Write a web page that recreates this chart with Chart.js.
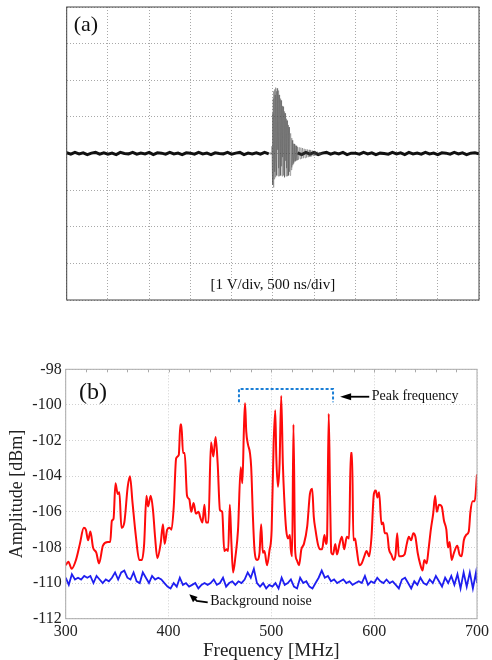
<!DOCTYPE html>
<html>
<head>
<meta charset="utf-8">
<script src="https://cdn.jsdelivr.net/npm/chart.js@4.4.1/dist/chart.umd.min.js"></script>
<style>
body { margin: 0; background: #fff; }
#wrap { position: relative; width: 492px; height: 660px; }
#canvas_a { position: absolute; left: 0; top: 0; }
#canvas_b { position: absolute; left: 0; top: 310px; }
</style>
</head>
<body>
<div id="wrap">
	<canvas id="canvas_a" width="492" height="310"></canvas>
	<canvas id="canvas_b" width="492" height="350"></canvas>
</div>
<script>
// ---- (a) oscilloscope trace, time in ns, voltage in V ----
var baseTime = [0,50,100,150,200,250,300,350,400,450,500,550,600,650,700,750,800,850,900,950,
	1000,1050,1100,1150,1200,1250,1300,1350,1400,1450,1500,1550,1600,1650,1700,1750,1800,1850,1900,1950,
	2000,2050,2100,2150,2200,2250,2300,2350,2400,2450,2500,2550,2600,2650,2700,2750,2800,2850,2900,2950,
	3000,3050,3100,3150,3200,3250,3300,3350,3400,3450,3500,3550,3600,3650,3700,3750,3800,3850,3900,3950,
	4000,4050,4100,4150,4200,4250,4300,4350,4400,4450,4500,4550,4600,4650,4700,4750,4800,4850,4900,4950,5000];
var baseVolt = [0.02,-0.02,0.03,-0.01,0.02,-0.03,0.01,0.03,-0.02,0.02,
	-0.02,0.01,-0.03,0.03,0.00,-0.01,0.03,-0.02,0.01,-0.01,
	0.03,-0.03,0.02,0.01,-0.02,0.03,-0.01,0.01,-0.03,0.02,
	0.01,-0.02,0.03,-0.01,0.01,-0.03,0.02,0.00,-0.01,0.03,
	-0.02,0.01,0.03,-0.03,0.01,-0.01,0.02,-0.02,0.03,-0.01,
	null,null,null,null,null,null,
	0.02,-0.03,0.03,-0.02,0.03,-0.03,0.01,0.03,-0.02,0.02,
	-0.01,0.03,-0.03,0.01,0.01,-0.02,0.03,-0.01,0.02,-0.03,
	0.01,0.00,-0.02,0.03,-0.01,0.02,-0.03,0.03,-0.01,0.01,
	-0.02,0.03,-0.01,0.01,-0.03,0.02,0.01,-0.02,0.03,-0.01,
	0.02,-0.03,0.01,0.02,-0.01];

var burstTime = [2450,2458,2466,2474,2482,
	2488,2492,2496,2500,2504,2508,2512,2516,2520,2524,2528,2532,2536,2540,2544,2548,2552,2556,2560,2564,
	2568,2572,2576,2580,2584,2588,2592,2596,2600,2604,2608,2612,2616,2620,2624,2628,2632,2636,2640,2644,
	2648,2652,2656,2660,2664,2668,2672,2676,2680,2684,2688,2692,2696,2700,2704,2708,2712,2716,2720,2724,
	2728,2732,2736,2740,2744,2748,2752,2756,2760,2764,2768,2772,2776,2780,2784,2788,2792,2796,2800,
	2810,2820,2830,2840,2850,2860,2870,2880,2890,2900,2910,2920,2930,2940,2950,2960,2970,2980,2990,3000,
	3010,3020,3030,3040,3050,3060,3070,3080,3090,3100];
var burstVolt = [-0.01,0.02,-0.02,0.03,-0.02,
	0.2,-0.4,1.1,-0.85,1.5,-0.93,1.7,-0.7,1.75,-0.5,1.6,-0.65,1.8,-0.2,1.7,-0.6,1.78,0.1,1.65,-0.62,
	1.72,-0.4,1.6,-0.62,1.55,0.0,1.5,-0.6,1.45,-0.35,1.4,-0.62,1.3,-0.1,1.28,-0.6,1.2,-0.45,1.15,-0.65,
	1.1,-0.2,1.0,-0.62,0.95,-0.4,0.9,-0.62,0.85,-0.15,0.78,-0.6,0.72,-0.5,0.68,-0.6,0.55,-0.3,0.48,-0.45,
	0.42,-0.38,0.36,-0.32,0.3,-0.28,0.27,-0.25,0.26,-0.22,0.24,-0.21,0.22,-0.2,0.21,-0.19,0.2,-0.18,0.18,
	-0.17,0.17,-0.15,0.16,-0.14,0.15,-0.13,0.13,-0.12,0.12,-0.11,0.11,-0.1,0.1,-0.09,0.09,-0.08,0.08,-0.07,0.07,
	-0.06,0.06,-0.05,0.05,-0.05,0.04,-0.04,0.04,-0.03,0.02];

// ---- (b) spectrum, MHz / dBm ----
var sigFreq = [300,302.6,305.8,310,313.8,317.6,319.6,321.8,324,326.6,329.8,332.4,336.2,341,343.3,344.9,346.5,348.4,350.6,352.2,
	354.2,357,360.3,362.5,365,368.3,371.5,374,376.3,378.5,380.1,382.7,384.9,386.9,389.1,392.3,394.6,396.2,398.7,401,
	402.9,405.1,407.4,410,411.5,412.5,414.1,415.7,418,420.2,422.1,424.4,426.6,429.2,430.8,433,434.9,436.5,438.8,441.3,
	443.6,445.8,447.8,450,452.2,454.2,456.4,458,459.6,461.2,462.8,465.1,467.6,470.2,471.8,473.4,474.4,475.6,477.2,479.2,
	480.4,482.1,483.7,486.2,488.5,490.1,491.7,493.3,495.8,498.1,500.3,502.2,503.8,504.8,506.4,508,509.6,511.2,512.5,514.4,
	516.3,518,518.9,520.2,521.5,523.1,524.7,526.9,529.2,531.7,534.9,537.5,539.7,541.3,542.9,545.2,547.1,549.4,551.6,553.2,
	554.2,555.8,557.1,558.3,560,562.2,563.8,566.3,568.6,570.8,573.4,575.6,577.2,578.5,579.8,581.4,583,585.6,587.8,590.4,
	592.6,595.2,597.4,599.7,601.6,603.2,604.8,607.1,608.7,610.3,612.5,614.4,616.7,618.9,620.8,622.4,624,626.3,629.5,631.7,
	633.7,635.9,638.1,640.1,642.3,644.6,647.1,648.7,651,652.9,655.1,657.4,659.3,660.9,663.1,665.7,667.9,670.2,671.8,673.4,
	675.3,677.6,680.8,683,685,687.2,689.4,692,693.6,695.8,697.8,700];
var sigAmp = [-109.0,-108.8,-109.2,-108.7,-107.8,-106.9,-107.0,-107.6,-107.1,-108.0,-108.3,-108.9,-107.9,-107.7,-107.7,-106.5,-106.4,-104.4,-105.0,-104.9,
	-106.9,-106.6,-104.6,-104.0,-105.5,-107.4,-108.7,-108.7,-107.8,-105.1,-105.7,-105.1,-105.9,-107.4,-108.6,-107.8,-106.7,-107.8,-107.0,-106.9,
	-107.0,-105.7,-103.0,-102.8,-101.1,-101.1,-102.7,-102.7,-105.1,-105.3,-106.0,-105.5,-106.1,-106.0,-106.3,-106.6,-105.6,-106.6,-106.6,-102.1,
	-102.9,-101.8,-103.3,-105.9,-106.0,-108.2,-108.1,-108.2,-105.6,-107.8,-109.4,-108.5,-107.0,-103.5,-104.4,-101.2,-99.9,-101.5,-102.2,-102.7,
	-103.5,-106.3,-108.2,-108.7,-108.3,-106.7,-108.3,-108.2,-109.0,-108.2,-107.0,-102.2,-100.3,-102.9,-104.6,-103.3,-99.5,-103.3,-105.2,-107.0,
	-107.5,-107.3,-108.1,-108.5,-101.1,-108.1,-108.7,-109.0,-108.1,-107.8,-106.8,-105.0,-104.7,-106.3,-107.0,-107.8,-108.1,-108.1,-107.3,-107.8,
	-107.4,-100.5,-105.1,-108.3,-108.4,-107.8,-108.4,-107.8,-107.4,-108.1,-107.4,-107.5,-102.7,-102.7,-107.6,-107.5,-108.1,-109.0,-108.9,-108.5,
	-108.2,-108.5,-107.4,-105.0,-104.8,-105.2,-104.9,-106.7,-106.6,-107.2,-107.2,-108.1,-108.4,-108.7,-108.4,-107.2,-108.5,-108.5,-108.4,-107.8,
	-107.4,-107.6,-107.2,-107.4,-108.3,-108.9,-109.3,-108.7,-108.9,-108.1,-107.0,-106.1,-105.1,-106.0,-105.6,-105.7,-106.5,-107.0,-108.0,-107.7,
	-108.7,-108.3,-107.9,-108.4,-108.5,-107.6,-107.3,-107.1,-106.0,-105.4,-105.4,-103.9];

var noiseFreq = [300,303,306,309,312,315,318,321,324,327,330,333,336,339,342,345,348,351,354,357,
	360,363,366,369,372,375,378,381,384,387,390,393,396,399,402,405,408,411,414,417,
	420,423,426,429,432,435,438,441,444,447,450,453,456,459,462,465,468,471,474,477,
	480,483,486,489,492,495,498,501,504,507,510,513,516,519,522,525,528,531,534,537,
	540,543,546,549,552,555,558,561,564,567,570,573,576,579,582,585,588,591,594,597,
	600,603,606,609,612,615,618,621,624,627,630,633,636,639,642,645,648,651,654,657,
	660,663,666,669,672,675,678,681,684,687,690,693,696,699,700];
var noiseAmp = [-109.7,-110.1,-109.5,-109.8,-109.7,-109.8,-109.6,-109.7,-109.6,-110.0,-109.6,-109.8,-110.0,-109.8,-109.9,-109.7,-109.4,-109.8,-109.4,-109.3,
	-109.7,-109.8,-109.4,-109.9,-110.0,-109.4,-109.7,-110.0,-109.6,-109.8,-109.7,-109.8,-110.0,-110.2,-110.3,-110.0,-110.2,-109.7,-110.1,-110.0,
	-110.2,-110.1,-110.0,-110.3,-110.1,-110.0,-110.1,-110.0,-109.8,-110.1,-110.0,-109.7,-110.2,-110.0,-109.9,-110.1,-109.9,-110.0,-109.8,-109.4,
	-109.7,-109.2,-110.0,-110.2,-110.0,-110.3,-110.1,-110.2,-110.0,-110.3,-109.7,-110.1,-110.0,-109.8,-110.2,-110.3,-109.7,-110.0,-109.9,-110.2,
	-110.3,-110.0,-109.7,-109.3,-109.7,-109.6,-109.9,-109.8,-110.0,-109.9,-109.8,-110.0,-109.9,-110.1,-110.0,-109.9,-110.0,-109.6,-110.1,-109.9,
	-110.0,-109.7,-109.9,-110.0,-109.8,-110.0,-109.9,-110.1,-110.3,-109.8,-109.7,-110.0,-110.3,-109.9,-110.1,-109.7,-110.0,-110.1,-109.8,-110.0,
	-109.6,-109.9,-110.2,-109.7,-110.0,-109.6,-110.1,-109.5,-110.3,-109.4,-110.2,-109.4,-110.3,-109.4,-110.0];

var serif = '"Liberation Serif", "Times New Roman", serif';

function toPoints(xs, ys) {
	var pts = [];
	for (var i in xs) {
		pts.push({x: xs[i], y: ys[i]});
	}
	return pts;
}

function arrowHead(ctx, x1, y1, x2, y2, len, half) {
	var ang = Math.atan2(y2 - y1, x2 - x1);
	ctx.beginPath();
	ctx.moveTo(x2, y2);
	ctx.lineTo(x2 - len * Math.cos(ang) + half * Math.sin(ang), y2 - len * Math.sin(ang) - half * Math.cos(ang));
	ctx.lineTo(x2 - len * Math.cos(ang) - half * Math.sin(ang), y2 - len * Math.sin(ang) + half * Math.cos(ang));
	ctx.closePath();
	ctx.fill();
}

var labelsA = {
	id: 'labelsA',
	afterDraw: function(chart) {
		var ctx = chart.ctx;
		var a = chart.chartArea;
		ctx.save();
		ctx.strokeStyle = '#444';
		ctx.lineWidth = 1;
		ctx.strokeRect(a.left, a.top, a.right - a.left, a.bottom - a.top);
		ctx.fillStyle = '#111';
		ctx.textBaseline = 'middle';
		ctx.font = '22px ' + serif;
		ctx.fillText('(a)', a.left + 7, a.top + 18);
		ctx.font = '15px ' + serif;
		ctx.textAlign = 'center';
		ctx.fillText('[1 V/div, 500 ns/div]', (a.left + a.right) / 2, a.bottom - 15);
		ctx.restore();
	}
};

var labelsB = {
	id: 'labelsB',
	afterDraw: function(chart) {
		var ctx = chart.ctx;
		var a = chart.chartArea;
		var sx = chart.scales.x, sy = chart.scales.y;
		ctx.save();
		ctx.strokeStyle = '#aaa';
		ctx.lineWidth = 1;
		ctx.strokeRect(a.left, a.top, a.right - a.left, a.bottom - a.top);
		// small marks along the top edge
		ctx.beginPath();
		for (var f = 320; f < 700; f += 20) {
			var px = Math.round(sx.getPixelForValue(f)) + 0.5;
			ctx.moveTo(px, a.top);
			ctx.lineTo(px, a.top + 3);
		}
		ctx.stroke();

		ctx.fillStyle = '#111';
		ctx.textBaseline = 'middle';
		ctx.font = '24px ' + serif;
		ctx.fillText('(b)', sx.getPixelForValue(313), sy.getPixelForValue(-99.31));

		// peak bracket
		ctx.strokeStyle = '#1b7fd6';
		ctx.lineWidth = 2;
		ctx.setLineDash([3, 2]);
		ctx.beginPath();
		ctx.moveTo(sx.getPixelForValue(468.5), sy.getPixelForValue(-99.85));
		ctx.lineTo(sx.getPixelForValue(468.5), sy.getPixelForValue(-99.1));
		ctx.lineTo(sx.getPixelForValue(560), sy.getPixelForValue(-99.1));
		ctx.lineTo(sx.getPixelForValue(560), sy.getPixelForValue(-99.85));
		ctx.stroke();
		ctx.setLineDash([]);

		// peak arrow
		ctx.strokeStyle = '#000';
		ctx.fillStyle = '#000';
		ctx.lineWidth = 1.8;
		var ay = sy.getPixelForValue(-99.54);
		var ax1 = sx.getPixelForValue(595.2), ax2 = sx.getPixelForValue(566.9);
		ctx.beginPath();
		ctx.moveTo(ax1, ay);
		ctx.lineTo(ax2 + 8, ay);
		ctx.stroke();
		arrowHead(ctx, ax1, ay, ax2, ay, 11, 3.5);
		ctx.font = '14px ' + serif;
		ctx.fillStyle = '#111';
		ctx.fillText('Peak frequency', sx.getPixelForValue(597.6), ay);

		// background noise arrow
		var tx = sx.getPixelForValue(438.1), ty = sy.getPixelForValue(-111.08);
		var bx = sx.getPixelForValue(427.5), by = sy.getPixelForValue(-111.0);
		var hx = sx.getPixelForValue(420.2), hy = sy.getPixelForValue(-110.63);
		ctx.fillStyle = '#000';
		ctx.beginPath();
		ctx.moveTo(tx, ty);
		ctx.lineTo(bx, by);
		ctx.lineTo(hx + 4, hy + 3);
		ctx.stroke();
		arrowHead(ctx, bx, by, hx, hy, 8, 3.5);
		ctx.fillStyle = '#111';
		ctx.fillText('Background noise', sx.getPixelForValue(440.6), sy.getPixelForValue(-111.05));
		ctx.restore();
	}
};

var ctxA = document.getElementById('canvas_a');
var scopeChart = new Chart(ctxA, {
	type: 'line',
	data: {
		datasets: [
			{
				label: 'burst',
				data: toPoints(burstTime, burstVolt),
				borderColor: 'rgba(70, 70, 70, 0.55)',
				borderWidth: 0.7,
				pointRadius: 0
			},
			{
				label: 'trace',
				data: toPoints(baseTime, baseVolt),
				borderColor: '#111',
				borderWidth: 3,
				pointRadius: 0
			}
		]
	},
	options: {
		responsive: false,
		animation: false,
		layout: { padding: { left: 66.7, right: 13, top: 7, bottom: 10 } },
		plugins: { legend: { display: false }, tooltip: { enabled: false } },
		scales: {
			x: {
				type: 'linear', min: 0, max: 5000,
				ticks: { display: false, stepSize: 500 },
				grid: { color: '#a8a8a8', drawTicks: false },
				border: { display: false, dash: [1, 2] }
			},
			y: {
				type: 'linear', min: -4, max: 4,
				ticks: { display: false, stepSize: 1 },
				grid: { color: '#a8a8a8', drawTicks: false },
				border: { display: false, dash: [1, 2] }
			}
		}
	},
	plugins: [labelsA]
});

var ctxB = document.getElementById('canvas_b');
var spectrumChart = new Chart(ctxB, {
	type: 'line',
	data: {
		datasets: [
			{
				label: 'Signal',
				data: toPoints(sigFreq, sigAmp),
				borderColor: '#ff0a0a',
				borderWidth: 2,
				pointRadius: 0,
				cubicInterpolationMode: 'monotone'
			},
			{
				label: 'Background noise',
				data: toPoints(noiseFreq, noiseAmp),
				borderColor: '#1e1ef0',
				borderWidth: 1.8,
				pointRadius: 0
			}
		]
	},
	options: {
		responsive: false,
		animation: false,
		layout: { padding: { left: 0, right: 10.3, top: 59.3, bottom: 0 } },
		plugins: { legend: { display: false }, tooltip: { enabled: false } },
		scales: {
			x: {
				type: 'linear', min: 300, max: 700,
				ticks: { stepSize: 100, padding: 3, color: '#222', font: { family: serif, size: 16 } },
				grid: { color: '#d0d0d0', drawTicks: false },
				border: { display: false, dash: [1, 2] },
				title: { display: true, text: 'Frequency [MHz]', color: '#222', font: { family: serif, size: 19, lineHeight: 1 }, padding: { top: 0, bottom: -1 } },
				afterFit: function(scale) { scale.height = 41.3; }
			},
			y: {
				type: 'linear', min: -112, max: -98,
				ticks: { stepSize: 2, padding: 4, color: '#222', font: { family: serif, size: 16 } },
				grid: { color: '#d0d0d0', drawTicks: false },
				border: { display: false, dash: [1, 2] },
				title: { display: true, text: 'Amplitude [dBm]', color: '#222', font: { family: serif, size: 18 }, padding: { top: 6, bottom: 0 } },
				afterFit: function(scale) { scale.width = 65.7; }
			}
		}
	},
	plugins: [labelsB]
});
</script>
</body>
</html>
